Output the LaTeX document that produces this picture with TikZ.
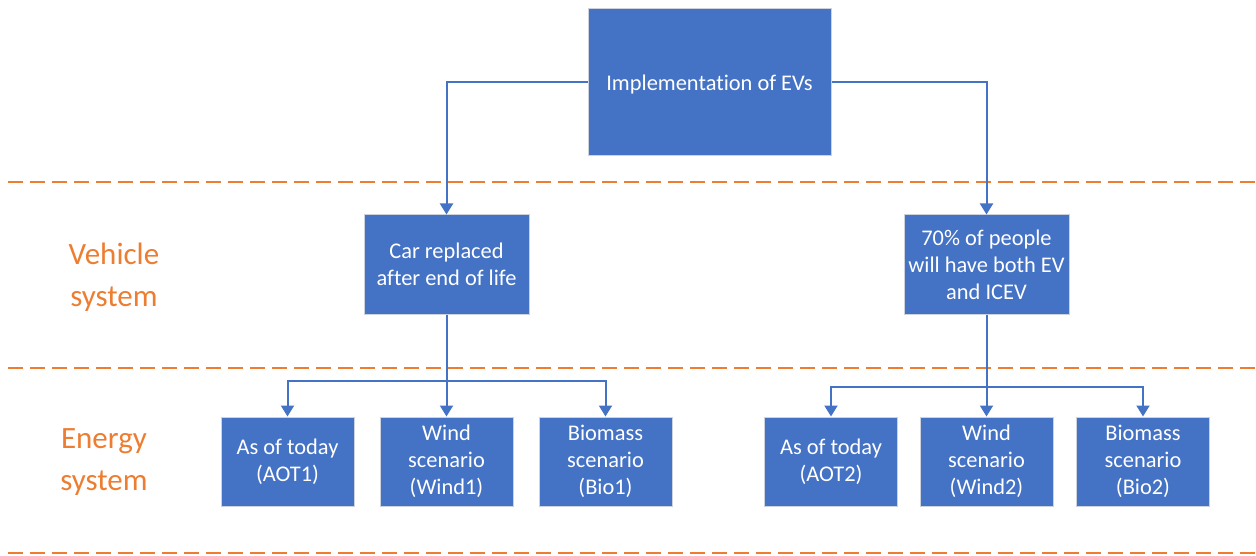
\documentclass[tikz,border=0pt]{standalone}
\usepackage{fontspec}
\setmainfont{Carlito}[Ligatures={NoCommon,NoContextual,NoRare}]
\usetikzlibrary{arrows.meta}
\definecolor{boxblue}{HTML}{4472C4}
\definecolor{lineorange}{HTML}{ED7D31}
\definecolor{boxedge}{HTML}{CDD3DD}
\begin{document}
\begin{tikzpicture}[x=1pt,y=-1pt,
  box/.style={draw=boxedge, line width=1pt, fill=boxblue, text=white, align=center,
    inner sep=0pt, font=\fontsize{22.4}{27}\selectfont},
  arr/.style={draw=boxblue, line width=2pt, -{Triangle[width=13pt,length=11pt]}},
  sep/.style={draw=lineorange, line width=2pt, dash pattern=on 15pt off 7pt},
  lab/.style={text=lineorange, align=center, font=\fontsize{31}{42}\selectfont}]
\useasboundingbox (0,0) rectangle (1256,556);
% separators
\draw[sep] (8,182) -- (1256,182);
\draw[sep] (8,368) -- (1256,368);
\draw[sep] (8,553) -- (1256,553);
% labels
\node[lab] (vs) at (114,277) {Vehicle\\system};
\node[lab] (es) at (104,462) {Energy\\system};
% boxes
\node[box, minimum width=243pt, minimum height=147pt, align=none, text height=22pt, text depth=5pt] (top) at (709.5,81.75) {Implementa{}tion of EVs};
\node[box, minimum width=165pt, minimum height=99pt] (m1) at (446.5,264.5) {Car replaced\\after end of life};
\node[box, minimum width=165pt, minimum height=99pt] (m2) at (986.5,264.5) {70\% of people\\will have both EV\\and ICEV};
\node[box, minimum width=133pt, minimum height=89pt] (b1) at (287.5,461.5) {As of today\\(AOT1)};
\node[box, minimum width=133pt, minimum height=89pt] (b2) at (446.5,461.5) {Wind\\scenario\\(Wind1)};
\node[box, minimum width=133pt, minimum height=89pt] (b3) at (605.5,461.5) {Biomass\\scenario\\(Bio1)};
\node[box, minimum width=133pt, minimum height=89pt] (b4) at (831,461.5) {As of today\\(AOT2)};
\node[box, minimum width=133pt, minimum height=89pt] (b5) at (986.5,461.5) {Wind\\scenario\\(Wind2)};
\node[box, minimum width=133pt, minimum height=89pt] (b6) at (1143,461.5) {Biomass\\scenario\\(Bio2)};
% connectors
\draw[arr] (top.west) -| (m1.north);
\draw[arr] (top.east) -| (m2.north);
\coordinate (j1) at (446.5,381);
\coordinate (j2) at (986.5,387);
\draw[arr] (m1.south) -- (b2.north);
\draw[arr] (j1) -| (b1.north);
\draw[arr] (j1) -| (b3.north);
\draw[arr] (m2.south) -- (b5.north);
\draw[arr] (j2) -| (b4.north);
\draw[arr] (j2) -| (b6.north);
\end{tikzpicture}
\end{document}
